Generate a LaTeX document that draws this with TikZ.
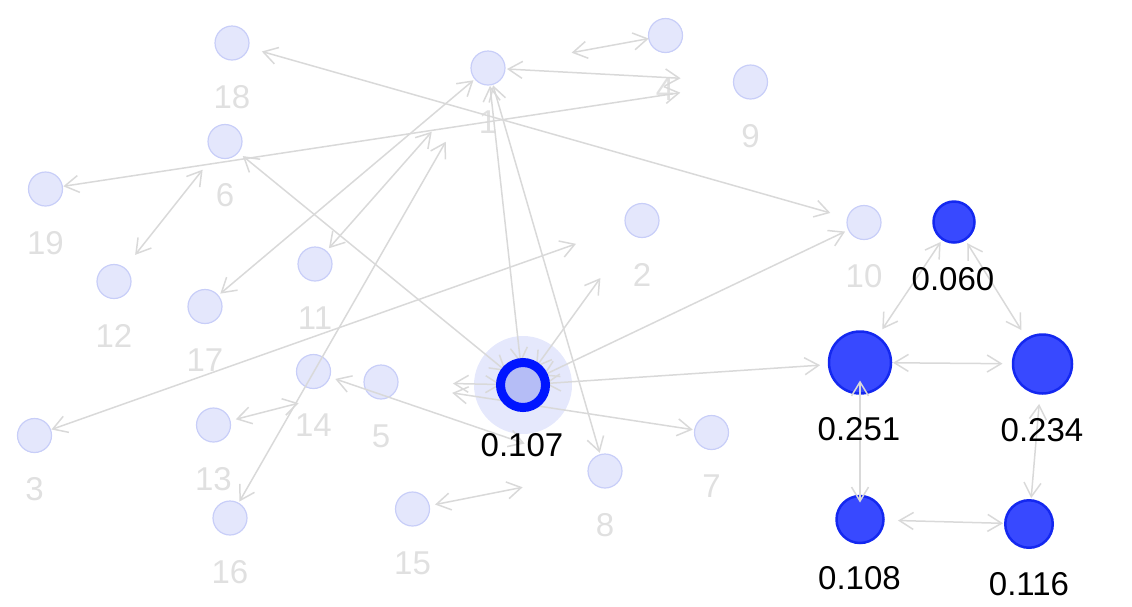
\documentclass[tikz,border=0pt]{standalone}
\usepackage{fontspec}
\setmainfont{Liberation Sans}
\usetikzlibrary{arrows.meta}
\definecolor{lfill}{HTML}{E4E7FC}
\definecolor{lstroke}{HTML}{C8CEF8}
\definecolor{lgray}{HTML}{E0E0E0}
\definecolor{egray}{HTML}{D9D9D9}
\definecolor{bfill}{HTML}{3849FF}
\definecolor{bstroke}{HTML}{1428F0}
\definecolor{ringc}{HTML}{0015FF}
\definecolor{cfill}{HTML}{B5BDF6}
\definecolor{haloc}{HTML}{E5E8FC}
\begin{document}
\begin{tikzpicture}[x=1pt,y=-1pt,
  lnode/.style={circle,fill=lfill,draw=lstroke,line width=1.2pt,minimum size=34pt,inner sep=0pt},
  bnode/.style={circle,fill=bfill,draw=bstroke,line width=2.5pt,inner sep=0pt},
  glab/.style={text=lgray,font=\fontsize{33}{33}\selectfont,inner sep=0pt},
  blab/.style={text=black,font=\fontsize{33}{33}\selectfont,inner sep=0pt},
  edge/.style={draw=egray,line width=1.5pt,{Straight Barb[length=14pt,width=17pt]}-{Straight Barb[length=14pt,width=17pt]}},
  ringnode/.style={circle,draw=ringc,line width=9pt,fill=cfill,minimum size=45pt,inner sep=0pt},
]
\useasboundingbox (0,0) rectangle (1132,606);
\coordinate (c) at (523,385);
\fill[haloc] (c) circle (49);
% light nodes
\node[lnode] (n18) at (232,43) {};
\node[lnode] (n4) at (665.5,35.5) {};
\node[lnode] (n1) at (488,68) {};
\node[lnode] (n9) at (750.5,82) {};
\node[lnode] (n6) at (225,141.5) {};
\node[lnode] (n19) at (45.5,189) {};
\node[lnode] (n2) at (642,220.5) {};
\node[lnode] (n10) at (864,222.5) {};
\node[lnode] (n12) at (114,281.5) {};
\node[lnode] (n11) at (315,264) {};
\node[lnode] (n17) at (205,306.5) {};
\node[lnode] (n14) at (313.5,371.5) {};
\node[lnode] (n5) at (381,382) {};
\node[lnode] (n3) at (34.5,435.5) {};
\node[lnode] (n13) at (213.5,425) {};
\node[lnode] (n16) at (230,518) {};
\node[lnode] (n15) at (412.5,509) {};
\node[lnode] (n8) at (605,471) {};
\node[lnode] (n7) at (711.5,432.5) {};
% blue nodes
\node[bnode,minimum size=41pt] (nA) at (954,222) {};
\node[bnode,minimum size=62pt] (nB) at (860,362.5) {};
\node[bnode,minimum size=59pt] (nC) at (1042.5,364) {};
\node[bnode,minimum size=47pt] (nD) at (860,519.5) {};
\node[bnode,minimum size=47.5pt] (nE) at (1029,524) {};
% grey labels
\node[glab] (l18) at (232,97) {18};
\node[glab] (l4) at (665,89) {4};
\node[glab] (l1) at (488,122) {1};
\node[glab] (l9) at (750.5,136) {9};
\node[glab] (l6) at (225,195) {6};
\node[glab] (l19) at (45.5,243) {19};
\node[glab] (l2) at (642,274.5) {2};
\node[glab] (l10) at (864,276.5) {10};
\node[glab] (l12) at (114,335.5) {12};
\node[glab] (l11) at (315,318) {11};
\node[glab] (l17) at (205,360.5) {17};
\node[glab] (l14) at (313.5,425.5) {14};
\node[glab] (l5) at (381,436) {5};
\node[glab] (l3) at (34.5,489.5) {3};
\node[glab] (l13) at (213.5,479) {13};
\node[glab] (l16) at (230,572) {16};
\node[glab] (l15) at (412.5,563) {15};
\node[glab] (l8) at (605,525) {8};
\node[glab] (l7) at (711.5,486.5) {7};
% edges
\draw[edge,shorten <=31pt,shorten >=35pt] (n18.center) -- (n10.center);
\draw[edge,shorten <=18pt,shorten >=71pt] (n19.center) -- (n9.center);
\draw[edge,shorten <=19pt,shorten >=70pt] (n1.center) -- (n9.center);
\draw[edge,shorten <=17pt,shorten >=85pt] (n4.center) -- (n1.center);
\draw[edge,shorten <=36pt,shorten >=34pt] (n6.center) -- (n12.center);
\draw[edge,shorten <=23pt,shorten >=22pt] (n6.center) -- (c);
\draw[edge,shorten <=18pt,shorten >=19pt] (n1.center) -- (n8.center);
\draw[edge,shorten <=18pt,shorten >=22pt] (n1.center) -- (c);
\draw[edge,shorten <=20pt,shorten >=19pt] (n17.center) -- (n1.center);
\draw[edge,shorten <=21pt,shorten >=85pt] (n11.center) -- (n1.center);
\draw[edge,shorten <=19pt,shorten >=85pt] (n16.center) -- (n1.center);
\draw[edge,shorten <=18pt,shorten >=70pt] (n3.center) -- (n2.center);
\draw[edge,shorten <=22pt,shorten >=71pt] (c) -- (n2.center);
\draw[edge,shorten <=22pt,shorten >=21pt] (c) -- (n10.center);
\draw[edge,shorten <=22pt,shorten >=40pt] (c) -- (nB.center);
\draw[edge,shorten <=72pt,shorten >=19pt] (n5.center) -- (n7.center);
\draw[edge,shorten <=72pt,shorten >=22pt] (n5.center) -- (c);
\draw[edge,shorten <=23pt,shorten >=85pt] (n14.center) -- (n8.center);
\draw[edge,shorten <=23pt,shorten >=85pt] (n13.center) -- (n5.center);
\draw[edge,shorten <=23pt,shorten >=84pt] (n15.center) -- (n8.center);
\draw[edge,shorten <=24pt,shorten >=40pt] (nA.center) -- (nB.center);
\draw[edge,shorten <=25pt,shorten >=40pt] (nA.center) -- (nC.center);
\draw[edge,shorten <=33pt,shorten >=40pt] (nB.center) -- (nC.center);
\draw[edge,shorten <=18pt,shorten >=17pt] (nB.center) -- (nD.center);
\draw[edge,shorten <=40pt,shorten >=26pt] (nC.center) -- (nE.center);
\draw[edge,shorten <=38pt,shorten >=26pt] (nD.center) -- (nE.center);
% central node
\node[ringnode] (nc) at (c) {};
% black labels
\node[blab] (lc) at (522,445) {0.107};
\node[blab] (lA) at (953,279) {0.060};
\node[blab] (lB) at (859,429) {0.251};
\node[blab] (lC) at (1042,430) {0.234};
\node[blab] (lD) at (859.5,578) {0.108};
\node[blab] (lE) at (1029,584) {0.116};
\end{tikzpicture}
\end{document}
